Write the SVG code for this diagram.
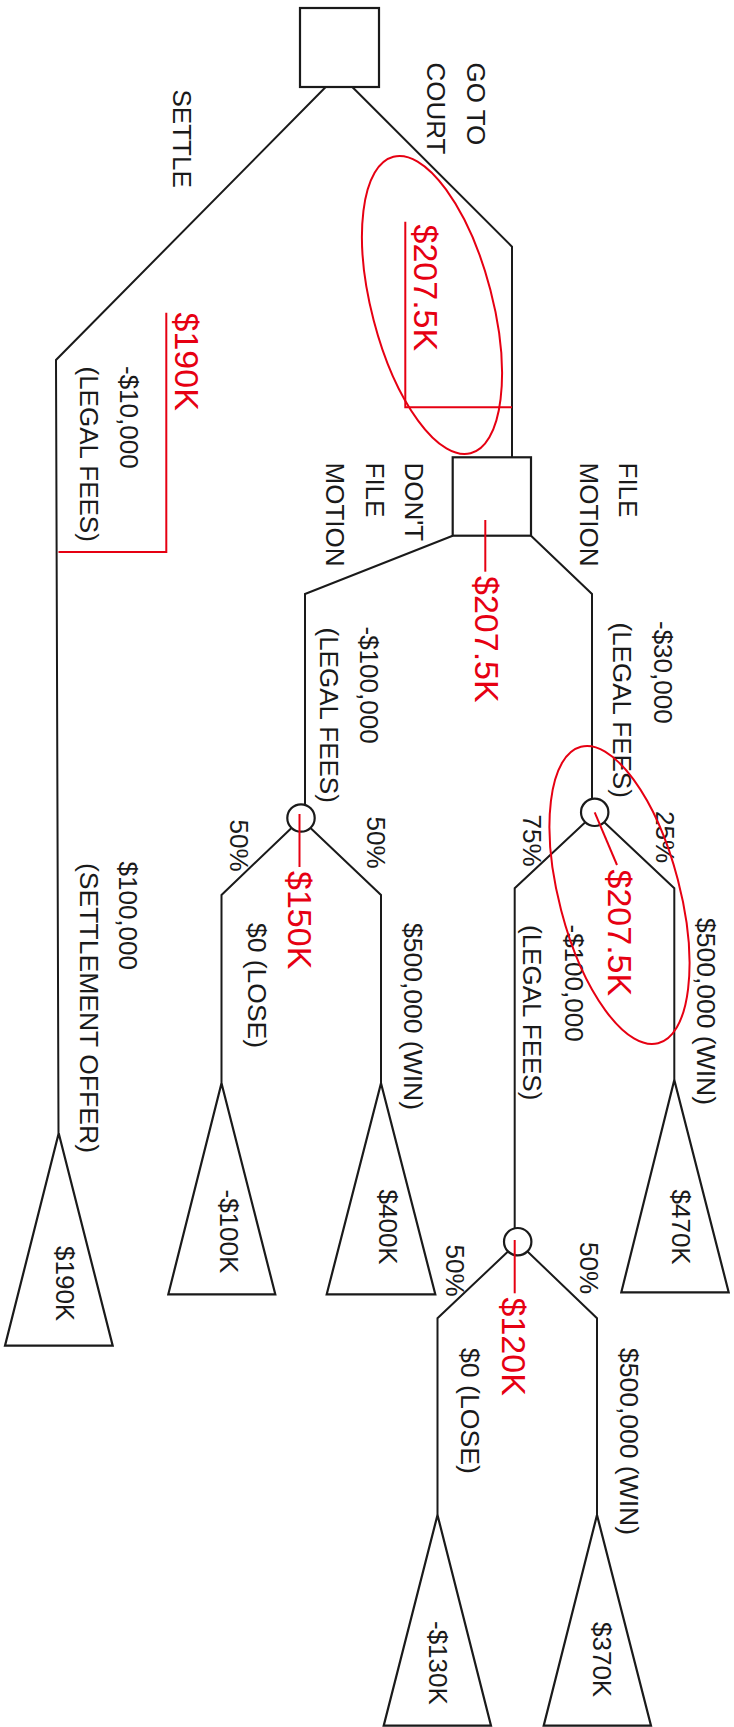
<svg xmlns="http://www.w3.org/2000/svg" width="734" height="1727" viewBox="0 0 734 1727">
<style>
  .bg{fill:#fff}
  .ln{fill:none;stroke:#1a1a1a;stroke-width:2;stroke-linejoin:miter}
  .nd{fill:#fff;stroke:#1a1a1a;stroke-width:2.2}
  .rl{fill:none;stroke:#e60012;stroke-width:2}
  .t{font-family:"Liberation Sans",Arial,Helvetica,sans-serif;font-size:26px;fill:#1a1a1a}
  .r{font-family:"Liberation Sans",Arial,Helvetica,sans-serif;font-size:34px;fill:#e60012}
</style>
<rect class="bg" x="0" y="0" width="734" height="1727"/>

<g id="connectors">
  <polyline class="ln" points="325.7,87 56,360 58.5,1133.3"/>
  <polyline class="ln" points="352.3,87 512,246.7 512,457.3"/>
  <polyline class="ln" points="452.7,535.7 305,594 305,804.5"/>
  <polyline class="ln" points="531,535.7 592,594 592,798.7"/>
  <polyline class="ln" points="291.5,828 221.5,895 221.5,1083.3"/>
  <polyline class="ln" points="310.5,828 381,895 381,1083.3"/>
  <polyline class="ln" points="585,822.5 514.7,888.3 514.7,1228.3"/>
  <polyline class="ln" points="604.5,822.5 674.3,888.3 674.3,1080"/>
  <polyline class="ln" points="508,1251.5 437.5,1318.3 437.5,1515"/>
  <polyline class="ln" points="527.5,1251.5 597,1318.3 597,1515"/>
</g>

<g id="decision-root">
  <rect class="nd" x="300" y="8" width="79" height="79"/>
</g>
<g id="decision-motion">
  <rect class="nd" x="452.7" y="457.3" width="78.3" height="78.4"/>
</g>
<g id="chance-nofile">
  <circle class="nd" cx="301" cy="818" r="13.7"/>
</g>
<g id="chance-file">
  <circle class="nd" cx="594.7" cy="812.3" r="13.7"/>
</g>
<g id="chance-trial">
  <circle class="nd" cx="517.7" cy="1241.7" r="13.7"/>
</g>

<g id="end-settle">
  <polygon class="nd" points="58.7,1133.3 112.7,1345.7 5,1345.7"/>
  <text class="t" transform="translate(55.5,1246) rotate(90)">$190K</text>
</g>
<g id="end-nofile-lose">
  <polygon class="nd" points="221.5,1083.3 275.3,1294.3 168.3,1294.3"/>
  <text class="t" transform="translate(220,1189.5) rotate(90)">-$100K</text>
</g>
<g id="end-nofile-win">
  <polygon class="nd" points="381,1083.3 435.3,1294.3 326.7,1294.3"/>
  <text class="t" transform="translate(378.5,1189.5) rotate(90)">$400K</text>
</g>
<g id="end-file-win">
  <polygon class="nd" points="674.3,1080 728.7,1292.3 621.3,1292.3"/>
  <text class="t" transform="translate(671.5,1189.5) rotate(90)">$470K</text>
</g>
<g id="end-trial-lose">
  <polygon class="nd" points="437.5,1515 491,1725.7 383.7,1725.7"/>
  <text class="t" transform="translate(428.5,1621) rotate(90)">-$130K</text>
</g>
<g id="end-trial-win">
  <polygon class="nd" points="597,1515 651,1725.7 543.7,1725.7"/>
  <text class="t" transform="translate(593,1622) rotate(90)">$370K</text>
</g>

<g id="labels">
  <text class="t" transform="translate(466.5,62.5) rotate(90)">GO TO</text>
  <text class="t" transform="translate(427,62.5) rotate(90)">COURT</text>
  <text class="t" transform="translate(173,89.5) rotate(90)">SETTLE</text>

  <text class="t" transform="translate(119.5,366) rotate(90)">-$10,000</text>
  <text class="t" transform="translate(79.5,366.5) rotate(90)">(LEGAL FEES)</text>

  <text class="t" transform="translate(618.5,462.5) rotate(90)">FILE</text>
  <text class="t" transform="translate(579.5,462.5) rotate(90)">MOTION</text>

  <text class="t" transform="translate(404.5,462.5) rotate(90)">DON'T</text>
  <text class="t" transform="translate(366,462.5) rotate(90)">FILE</text>
  <text class="t" transform="translate(325.5,462.5) rotate(90)">MOTION</text>

  <text class="t" transform="translate(359.5,626.5) rotate(90)">-$100,000</text>
  <text class="t" transform="translate(319.5,627.5) rotate(90)">(LEGAL FEES)</text>

  <text class="t" transform="translate(653.5,621) rotate(90)">-$30,000</text>
  <text class="t" transform="translate(613,622.5) rotate(90)">(LEGAL FEES)</text>

  <text class="t" transform="translate(229.5,819.5) rotate(90)">50%</text>
  <text class="t" transform="translate(366.5,816.5) rotate(90)">50%</text>
  <text class="t" transform="translate(522.5,814.5) rotate(90)">75%</text>
  <text class="t" transform="translate(655.5,811) rotate(90)">25%</text>

  <text class="t" transform="translate(248,923) rotate(90)" textLength="125" lengthAdjust="spacingAndGlyphs">$0 (LOSE)</text>
  <text class="t" transform="translate(404,923) rotate(90)" textLength="187" lengthAdjust="spacingAndGlyphs">$500,000 (WIN)</text>
  <text class="t" transform="translate(697,918) rotate(90)" textLength="187" lengthAdjust="spacingAndGlyphs">$500,000 (WIN)</text>

  <text class="t" transform="translate(565,924.5) rotate(90)">-$100,000</text>
  <text class="t" transform="translate(523,925) rotate(90)">(LEGAL FEES)</text>

  <text class="t" transform="translate(119,861.5) rotate(90)">$100,000</text>
  <text class="t" transform="translate(79.5,863) rotate(90)" textLength="290" lengthAdjust="spacingAndGlyphs">(SETTLEMENT OFFER)</text>

  <text class="t" transform="translate(446,1244.5) rotate(90)">50%</text>
  <text class="t" transform="translate(579.5,1242) rotate(90)">50%</text>

  <text class="t" transform="translate(461,1348) rotate(90)" textLength="126" lengthAdjust="spacingAndGlyphs">$0 (LOSE)</text>
  <text class="t" transform="translate(619.5,1348) rotate(90)" textLength="187" lengthAdjust="spacingAndGlyphs">$500,000 (WIN)</text>
</g>

<g id="rollback">
  <ellipse class="rl" cx="432" cy="305" rx="60.3" ry="153.2" transform="rotate(-14.6 432 305)"/>
  <ellipse class="rl" cx="619.5" cy="895" rx="60.3" ry="153.2" transform="rotate(-14.6 619.5 895)"/>
  <polyline class="rl" points="405.3,221.7 405.3,407.3 512,407.3"/>
  <polyline class="rl" points="166.3,312.7 166.3,552 58.5,552"/>
  <line class="rl" x1="485.3" y1="520" x2="485.3" y2="571.7"/>
  <line class="rl" x1="299.5" y1="814" x2="299.5" y2="867"/>
  <line class="rl" x1="594.7" y1="812.3" x2="617" y2="865"/>
  <line class="rl" x1="514.7" y1="1240" x2="514.7" y2="1293.3"/>
  <text class="r" transform="translate(414,224.5) rotate(90)">$207.5K</text>
  <text class="r" transform="translate(174.5,312.5) rotate(90)">$190K</text>
  <text class="r" transform="translate(474.5,576) rotate(90)">$207.5K</text>
  <text class="r" transform="translate(288,871) rotate(90)">$150K</text>
  <text class="r" transform="translate(607.5,869.5) rotate(90)">$207.5K</text>
  <text class="r" transform="translate(501.5,1297.5) rotate(90)">$120K</text>
</g>
</svg>
